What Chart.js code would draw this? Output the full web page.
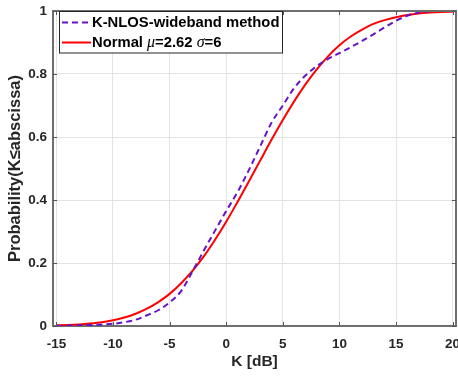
<!DOCTYPE html>
<html><head><meta charset="utf-8">
<script src="https://cdn.jsdelivr.net/npm/chart.js@4.4.1/dist/chart.umd.min.js"></script>
<style>html,body{margin:0;padding:0;background:#fff}canvas{display:block}</style>
</head><body>
<canvas id="c" width="458" height="377"></canvas>
<script>
const kValues = [-15,-14,-13,-12,-11,-10,-9,-8,-7,-6,-5,-4,-3,-2,-1,0,1,2,3,4,5,6,7,8,9,10,11,12,13,14,15,16,17,18,19,20];
const empiricalCdf = [0.000,0.001,0.002,0.003,0.005,0.007,0.012,0.020,0.034,0.050,0.075,0.110,0.172,0.238,0.302,0.365,0.425,0.495,0.570,0.645,0.700,0.755,0.795,0.825,0.848,0.866,0.885,0.905,0.926,0.948,0.969,0.985,0.995,0.999,1.000,1.000];
const normalCdf = [0.002,0.003,0.005,0.008,0.012,0.018,0.027,0.039,0.055,0.076,0.102,0.135,0.174,0.220,0.273,0.331,0.394,0.459,0.525,0.591,0.654,0.713,0.767,0.815,0.856,0.891,0.919,0.941,0.959,0.971,0.980,0.987,0.992,0.995,0.997,0.998];
const seriesNames = ['K-NLOS-wideband method', 'Normal μ=2.62 σ=6'];
const xTicks = [-15,-10,-5,0,5,10,15,20];
const yTicks = [0,0.2,0.4,0.6,0.8,1];
const xTitle = 'K [dB]';
const yTitle = 'Probability(K≤abscissa)';

const FAM = "'Liberation Sans', Arial, Helvetica, sans-serif";
const TXT = '#262626';
const BLUE = '#6414c8';
const RED = '#ff0000';

const boxPlugin = {
  id: 'boxPlugin',
  afterDraw(chart) {
    const ctx = chart.ctx, a = chart.chartArea;
    const xs = chart.scales.x, ys = chart.scales.y;
    ctx.save();
    ctx.strokeStyle = '#6e6e6e';
    ctx.lineWidth = 2;
    ctx.beginPath();
    ctx.moveTo(a.left, a.top); ctx.lineTo(a.right, a.top); ctx.lineTo(a.right, a.bottom);
    ctx.stroke();
    // inward tick marks
    ctx.strokeStyle = '#555';
    ctx.lineWidth = 1;
    ctx.beginPath();
    xTicks.forEach(v => {
      const px = Math.round(xs.getPixelForValue(v)) + 0.5;
      ctx.moveTo(px, a.bottom); ctx.lineTo(px, a.bottom - 4);
      ctx.moveTo(px, a.top); ctx.lineTo(px, a.top + 4);
    });
    yTicks.forEach(v => {
      const py = Math.round(ys.getPixelForValue(v)) + 0.5;
      ctx.moveTo(a.left, py); ctx.lineTo(a.left + 4, py);
      ctx.moveTo(a.right, py); ctx.lineTo(a.right - 4, py);
    });
    ctx.stroke();

    // legend
    const bx = 59.5, by = a.top, bw = 223, bh = 41.5;
    ctx.fillStyle = '#fff';
    ctx.fillRect(bx, by, bw, bh);
    ctx.strokeStyle = '#262626';
    ctx.lineWidth = 1;
    ctx.strokeRect(bx, by + 0.5, bw, bh);
    const rows = [
      {y: by + 11.5, color: BLUE, dash: [6, 4], label: chart.data.datasets[0].label},
      {y: by + 31.5, color: RED, dash: [], label: chart.data.datasets[1].label}
    ];
    rows.forEach(r => {
      ctx.strokeStyle = r.color; ctx.lineWidth = 2; ctx.setLineDash(r.dash);
      ctx.beginPath(); ctx.moveTo(62, r.y); ctx.lineTo(91, r.y); ctx.stroke();
      ctx.setLineDash([]);
      ctx.fillStyle = '#000';
      ctx.textBaseline = 'middle'; ctx.textAlign = 'left';
      let x = 92;
      const parts = r.label.split(/([μσ])/);
      parts.forEach(p => {
        if (!p) return;
        ctx.font = (p === 'μ' || p === 'σ') ? "italic 16px 'Liberation Serif', 'DejaVu Serif', serif" : 'bold 14.8px ' + FAM;
        ctx.fillText(p, x, r.y);
        x += ctx.measureText(p).width;
      });
    });
    ctx.restore();
  }
};

new Chart(document.getElementById('c'), {
  type: 'line',
  data: {
    datasets: [
      {label: seriesNames[0], data: kValues.map((k, i) => ({x: k, y: empiricalCdf[i]})),
       borderColor: BLUE, borderWidth: 2, borderDash: [6, 4], fill: false, pointRadius: 0, cubicInterpolationMode: 'monotone'},
      {label: seriesNames[1], data: kValues.map((k, i) => ({x: k, y: normalCdf[i]})),
       borderColor: RED, borderWidth: 2, fill: false, pointRadius: 0, cubicInterpolationMode: 'monotone'}
    ]
  },
  options: {
    responsive: false, animation: false, devicePixelRatio: 1,
    layout: {padding: {top: 11, right: 2, left: 0, bottom: 0}},
    plugins: {legend: {display: false}, tooltip: {enabled: false}},
    scales: {
      x: {
        type: 'linear', min: -15.3, max: 20.3,
        afterBuildTicks: s => { s.ticks = xTicks.map(v => ({value: v})); },
        afterFit: s => { s.height = 51; s.paddingLeft = 0; s.paddingRight = 0; },
        grid: {color: '#e3e3e3', lineWidth: 1, drawTicks: false},
        border: {color: '#6e6e6e', width: 2},
        ticks: {color: TXT, padding: 10, maxRotation: 0, autoSkip: false,
                font: {family: FAM, size: 13.5, weight: 'bold'},
                callback: v => String(v)},
        title: {display: true, text: xTitle, color: TXT, padding: {top: 0, bottom: 6},
                font: {family: FAM, size: 15.5, weight: 'bold'}}
      },
      y: {
        min: 0, max: 1,
        afterBuildTicks: s => { s.ticks = yTicks.map(v => ({value: v})); },
        afterFit: s => { s.width = 53; s.paddingTop = 0; s.paddingBottom = 0; },
        grid: {color: '#e3e3e3', lineWidth: 1, drawTicks: false},
        border: {color: '#6e6e6e', width: 2},
        ticks: {color: TXT, padding: 6, autoSkip: false,
                font: {family: FAM, size: 13.5, weight: 'bold'},
                callback: v => String(Math.round(v * 10) / 10)},
        title: {display: true, text: yTitle, color: TXT, padding: {top: 6, bottom: 0},
                font: {family: FAM, size: 16.5, weight: 'bold'}}
      }
    }
  },
  plugins: [boxPlugin]
});
</script>
</body></html>
